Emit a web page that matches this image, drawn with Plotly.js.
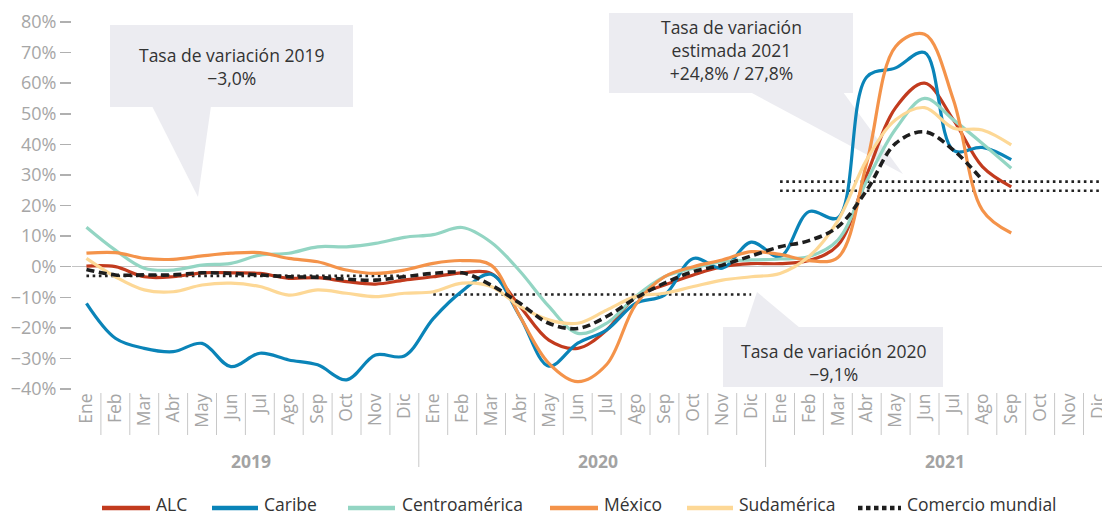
<!DOCTYPE html>
<html>
<head>
<meta charset="utf-8">
<script src="https://cdn.plot.ly/plotly-3.0.1.min.js"></script>
<style>html,body{margin:0;padding:0;background:#fff;}#chart{width:1102px;height:517px;}</style>
</head>
<body>
<div id="chart"></div>
<script>
// ---- Data ----
const monthNames = ["Ene","Feb","Mar","Abr","May","Jun","Jul","Ago","Sep","Oct","Nov","Dic"];
const years = ["2019","2020","2021"];
const monthLabels = years.flatMap(() => monthNames);
const yTickValues = [-40,-30,-20,-10,0,10,20,30,40,50,60,70,80];

const alc = [0.2,0,-3.3,-3.3,-2,-2,-2.2,-3.8,-3.6,-4.9,-5.7,-4.4,
             -3.3,-2,-2.2,-13,-24,-26.7,-20.7,-9.8,-6,-2.7,0,1,
             1,2,7,30,52,60,48,32.7,26.1];
const caribe = [-12,-23.4,-26.7,-27.8,-25.1,-32.7,-28.3,-30.5,-32.1,-37,-28.9,-29.2,
                -17,-8,-2.5,-16.3,-32.5,-25,-20.7,-12,-9.3,2.7,-0.5,8,
                3.3,18,16,62,65,70,38,39,35];
const centro = [12.9,5.4,-0.5,-1.1,0.5,1.1,3.8,4.4,6.5,6.5,7.6,9.6,
                10.5,12.8,8,-1.5,-13,-21.8,-18.5,-9.8,-3.3,-0.5,1.6,2.2,
                2.5,3.3,8.7,28,45,55,48,40.3,32.2];
const mexico = [4.4,4.6,2.7,2.4,3.5,4.4,4.6,2.7,1.6,-1.1,-2.2,-1.1,
                1.1,2,0.5,-16.3,-31.6,-37.6,-32,-12.5,-3.3,0,2.2,4.9,
                4,2,3,34,72,76,54.5,18.5,11];
const sudamerica = [2.7,-3.3,-7.6,-8.2,-6,-5.4,-6.5,-9.3,-7.6,-8.7,-9.8,-8.7,
                    -8.2,-5.4,-6.5,-13,-17.4,-18.5,-14.2,-9.8,-8.7,-6.5,-4.4,-3.3,
                    -2.2,3.3,15,35,48,52,45.3,44.7,39.8];
const comercio = [-0.9,-2.7,-2.7,-2.7,-2,-2.2,-2.7,-3.3,-3.5,-4.1,-4.4,-3.3,
                  -2.2,-2,-6,-12,-18.5,-20.2,-16.3,-10.3,-5.4,-1.6,0.5,3.5,
                  6.5,8.5,13,25,40.3,44.1,38.1,28.3];

// Annual growth rates (reference dotted lines): [start month, end month], value
const tasa2019 = {span:[0,11], value:-3.0};
const tasa2020 = {span:[12,23], value:-9.1};
const tasa2021a = {span:[24,35.5], value:24.8};
const tasa2021b = {span:[24,35.5], value:27.8};

const idx = n => Array.from({length:n}, (_, i) => i);

// ---- Traces ----
const seriesDefs = [
  {name:"ALC", y:alc, color:"#C23B1E"},
  {name:"Caribe", y:caribe, color:"#0A84B8"},
  {name:"Centroamérica", y:centro, color:"#93D5C3"},
  {name:"México", y:mexico, color:"#F4934A"},
  {name:"Sudamérica", y:sudamerica, color:"#FDD896"}
];
const traces = [];
[tasa2019, tasa2020, tasa2021a, tasa2021b].forEach(t => {
  traces.push({x:t.span, y:[t.value, t.value], mode:"lines", showlegend:false, hoverinfo:"skip",
    line:{color:"#222", width:2.6, dash:"2.6px,3.6px"}});
});
seriesDefs.forEach(s => {
  traces.push({x:idx(s.y.length), y:s.y, name:s.name, mode:"lines", showlegend:false,
    line:{color:s.color, width:3.2, shape:"spline", smoothing:1}});
});
traces.push({x:idx(comercio.length), y:comercio, name:"Comercio mundial", mode:"lines", showlegend:false,
  line:{color:"#1E1E1E", width:3.6, dash:"8px,4.5px", shape:"spline", smoothing:1}});

// ---- Layout helpers ----
const L = 72, T = 22, W = 1030, H = 367;
const px = x => (x - L) / W;
const py = y => (T + H - y) / H;
const FONT = "Open Sans, sans-serif";

const shapes = [];
// month separators below axis
for (let i = 0; i < monthLabels.length - 1; i++) {
  const yearSep = (i + 1) % 12 === 0;
  shapes.push({type:"line", xref:"x", yref:"paper", x0:i + 0.5, x1:i + 0.5,
    y0:py(393), y1: yearSep ? py(467) : py(435), line:{color:"#C8C8C8", width:1}});
}
const boxFill = "#ECECF1";
function callout(x0, y0, x1, y1, tri) {
  shapes.push({type:"rect", xref:"paper", yref:"paper", x0:px(x0), x1:px(x1), y0:py(y1), y1:py(y0),
    fillcolor:boxFill, line:{width:0}, layer:"below"});
  const p = tri.map((q, k) => (k ? "L" : "M") + px(q[0]) + "," + py(q[1])).join(" ") + " Z";
  shapes.push({type:"path", xref:"paper", yref:"paper", path:p, fillcolor:boxFill, line:{width:0}, layer:"below"});
}
callout(110, 25, 353, 107, [[152,106],[211,106],[198,197]]);
callout(609, 13, 853, 93, [[750,92],[843,92],[903,174]]);
callout(723, 327, 943, 387, [[745,328],[800,328],[757,292]]);

const annFont = {family:FONT, size:17.5, color:"#333"};
const annotations = [
  {xref:"paper", yref:"paper", x:px(231), y:py(66), text:"Tasa de variación 2019<br>−3,0%",
   showarrow:false, font:annFont, align:"center", xanchor:"center", yanchor:"middle"},
  {xref:"paper", yref:"paper", x:px(731), y:py(50), text:"Tasa de variación<br>estimada 2021<br>+24,8% / 27,8%",
   showarrow:false, font:annFont, align:"center", xanchor:"center", yanchor:"middle"},
  {xref:"paper", yref:"paper", x:px(833), y:py(362), text:"Tasa de variación 2020<br>−9,1%",
   showarrow:false, font:annFont, align:"center", xanchor:"center", yanchor:"middle"}
];
years.forEach((yr, k) => {
  annotations.push({xref:"x", yref:"paper", x:k * 12 + 5.5, xshift:6, y:py(461), text:"<b>" + yr + "</b>",
    showarrow:false, font:{family:FONT, size:17.5, color:"#A3A3A3"}, xanchor:"center", yanchor:"middle"});
});

// ---- Legend (drawn as line samples + text labels) ----
const legendItems = [
  {name:"ALC", color:"#C23B1E", x0:102, x1:150, tx:155},
  {name:"Caribe", color:"#0A84B8", x0:212, x1:258, tx:263},
  {name:"Centroamérica", color:"#93D5C3", x0:348, x1:395, tx:401},
  {name:"México", color:"#F4934A", x0:550, x1:598, tx:603},
  {name:"Sudamérica", color:"#FDD896", x0:687, x1:733, tx:738},
  {name:"Comercio mundial", color:"#1E1E1E", x0:858, x1:901, tx:906, dotted:true}
];
const legLineY = 508;
legendItems.forEach(it => {
  shapes.push({type:"line", xref:"paper", yref:"paper", x0:px(it.x0), x1:px(it.x1), y0:py(legLineY), y1:py(legLineY),
    line:{color:it.color, width:4.5, dash:it.dotted ? "4.5px,3.5px" : "solid"}});
  annotations.push({xref:"paper", yref:"paper", x:px(it.tx), y:py(516.5), text:it.name, showarrow:false,
    xanchor:"left", yanchor:"bottom", borderpad:0, font:{family:FONT, size:17.5, color:"#333"}});
});

const layout = {
  width:1102, height:517,
  margin:{l:L, r:0, t:T, b:517 - T - H},
  paper_bgcolor:"#fff", plot_bgcolor:"#fff",
  font:{family:FONT, color:"#333"},
  showlegend:false,
  xaxis:{range:[-0.5, 35.14], tickvals:idx(monthLabels.length), ticktext:monthLabels, tickangle:-90,
    showgrid:false, zeroline:false, showline:false, ticks:"", ticklabeloverflow:"allow", automargin:false,
    tickfont:{family:FONT, size:17.5, color:"#A6A6A6"}, fixedrange:true},
  yaxis:{range:[-40, 80], tickvals:yTickValues, ticktext:yTickValues.map(v => (v < 0 ? "−" + Math.abs(v) : v) + "%"),
    showgrid:false, zeroline:true, zerolinecolor:"#C4C4C4", zerolinewidth:1.5, showline:false, automargin:false,
    ticks:"outside", ticklen:11, tickwidth:1.5, tickcolor:"#B0B0B0",
    tickfont:{family:FONT, size:18, color:"#A6A6A6"}, fixedrange:true},
  shapes:shapes,
  annotations:annotations
};

Plotly.newPlot("chart", traces, layout, {displayModeBar:false, staticPlot:true});
</script>
</body>
</html>
